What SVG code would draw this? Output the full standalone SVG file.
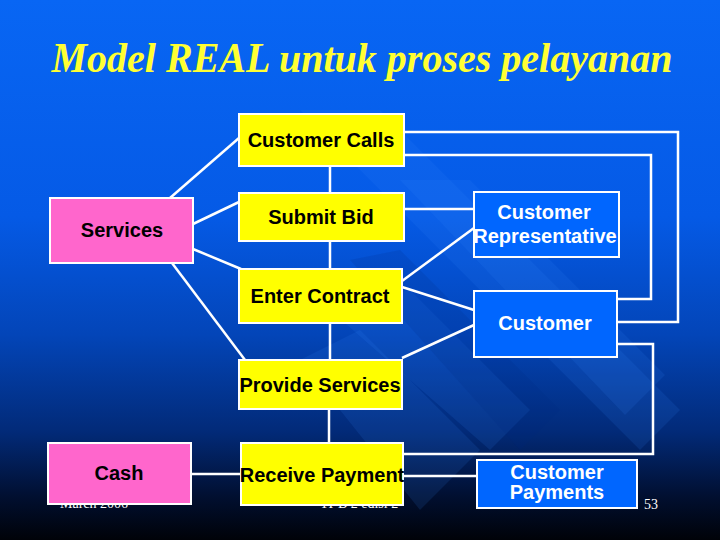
<svg xmlns="http://www.w3.org/2000/svg" width="720" height="540" viewBox="0 0 720 540">
<defs>
<linearGradient id="bg" x1="0" y1="0" x2="0" y2="1">
<stop offset="0" stop-color="#0866f4"/>
<stop offset="0.4" stop-color="#055ae6"/>
<stop offset="0.62" stop-color="#0345b8"/>
<stop offset="0.8" stop-color="#022a78"/>
<stop offset="0.92" stop-color="#010f30"/>
<stop offset="1" stop-color="#000208"/>
</linearGradient>
<style>
.conn line, .conn polyline { stroke: #ffffff; stroke-width: 2.5; fill: none; }
.yel { fill: #ffff00; stroke: #ffffff; stroke-width: 2; }
.pink { fill: #ff66cc; stroke: #ffffff; stroke-width: 2; }
.blue { fill: #0066ff; stroke: #ffffff; stroke-width: 2; }
.lbl { font-family: "Liberation Sans", Arial, sans-serif; font-weight: bold; font-size: 20px; text-anchor: middle; fill: #000000; }
.wlbl { font-family: "Liberation Sans", Arial, sans-serif; font-weight: bold; font-size: 20px; text-anchor: middle; fill: #ffffff; }
.foot { font-family: "Liberation Serif", "Times New Roman", serif; font-size: 14px; fill: #ffffff; }
.band { fill: #3a8cff; opacity: 0.12; }
.dband { fill: #002a80; opacity: 0.15; }
</style>
</defs>
<g id="background">
<rect x="0" y="0" width="720" height="540" fill="url(#bg)"/>
<polygon class="band" points="300,110 380,110 680,410 640,450 600,410 "/>
<polygon class="band" points="400,180 470,180 665,375 625,415 "/>
<polygon class="band" points="330,310 410,290 530,410 490,450 "/>
<polygon class="band" points="300,360 360,330 480,450 420,510 "/>
<polygon class="dband" points="350,260 400,250 560,410 520,450 "/>
</g>
<text x="362" y="72" font-family="'Liberation Serif', 'Times New Roman', serif" font-style="italic" font-weight="bold" font-size="42" fill="#ffff33" text-anchor="middle" textLength="621" lengthAdjust="spacingAndGlyphs">Model REAL untuk proses pelayanan</text>
<g id="footer">
<text class="foot" x="60" y="508">March 2006</text>
<text class="foot" x="320" y="508">TI-B 2 edisi 2</text>
<text class="foot" x="644" y="509" font-family="'Liberation Sans', Arial, sans-serif" font-size="13">53</text>
</g>
<g id="connectors" class="conn">
<line x1="170" y1="198" x2="239" y2="138"/>
<line x1="193" y1="224" x2="239" y2="202"/>
<line x1="193" y1="249" x2="241" y2="269"/>
<line x1="172" y1="263" x2="245" y2="360"/>
<line x1="330" y1="166" x2="330" y2="193"/>
<line x1="330" y1="241" x2="330" y2="269"/>
<line x1="330" y1="323" x2="330" y2="360"/>
<line x1="329" y1="409" x2="329" y2="443"/>
<line x1="404" y1="209" x2="475" y2="209"/>
<line x1="402" y1="281" x2="474" y2="228"/>
<line x1="402" y1="287" x2="474" y2="310"/>
<line x1="402" y1="358" x2="474" y2="325"/>
<line x1="403" y1="476" x2="477" y2="476"/>
<line x1="191" y1="474" x2="241" y2="474"/>
<polyline points="404,132 678,132 678,322 617,322"/>
<polyline points="404,155 651,155 651,299 617,299"/>
<polyline points="617,344 653,344 653,454 403,454"/>
</g>
<g id="node-customer-calls">
<rect class="yel" x="239" y="114" width="165" height="52"/>
<text class="lbl" x="321" y="147">Customer Calls</text>
</g>
<g id="node-submit-bid">
<rect class="yel" x="239" y="193" width="165" height="48"/>
<text class="lbl" x="321" y="224">Submit Bid</text>
</g>
<g id="node-enter-contract">
<rect class="yel" x="239" y="269" width="163" height="54"/>
<text class="lbl" x="320" y="303">Enter Contract</text>
</g>
<g id="node-provide-services">
<rect class="yel" x="239" y="360" width="163" height="49"/>
<text class="lbl" x="320" y="392">Provide Services</text>
</g>
<g id="node-receive-payment">
<rect class="yel" x="241" y="443" width="162" height="62"/>
<text class="lbl" x="322" y="482">Receive Payment</text>
</g>
<g id="node-services">
<rect class="pink" x="50" y="198" width="143" height="65"/>
<text class="lbl" x="122" y="237">Services</text>
</g>
<g id="node-cash">
<rect class="pink" x="48" y="443" width="143" height="61"/>
<text class="lbl" x="119" y="480">Cash</text>
</g>
<g id="node-customer-representative">
<rect class="blue" x="474" y="192" width="145" height="65"/>
<text class="wlbl" x="544" y="219">Customer</text>
<text class="wlbl" x="545" y="243">Representative</text>
</g>
<g id="node-customer">
<rect class="blue" x="474" y="291" width="143" height="66"/>
<text class="wlbl" x="545" y="330">Customer</text>
</g>
<g id="node-customer-payments">
<rect class="blue" x="477" y="460" width="160" height="48"/>
<text class="wlbl" x="557" y="479" font-size="18">Customer</text>
<text class="wlbl" x="557" y="499" font-size="18">Payments</text>
</g>
</svg>
